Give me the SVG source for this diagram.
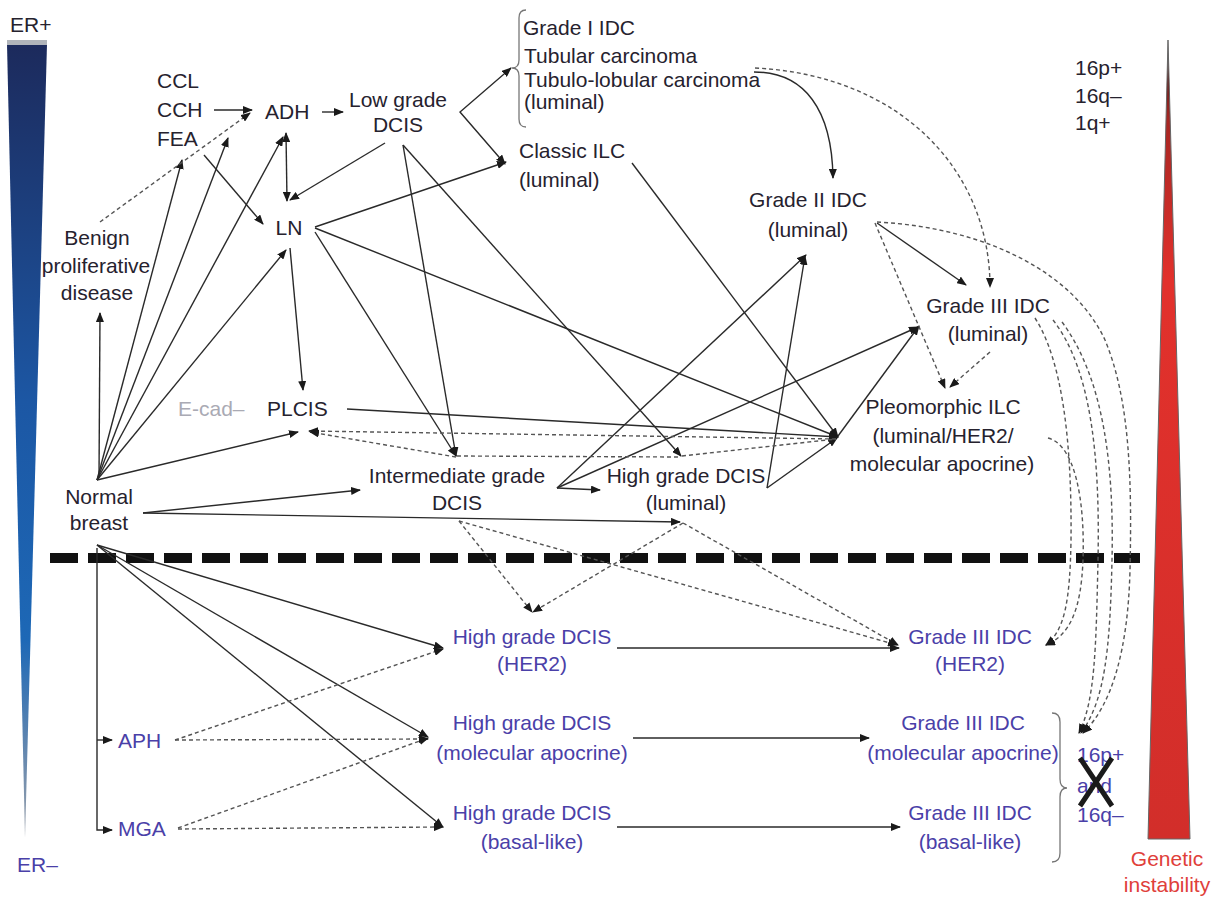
<svg xmlns="http://www.w3.org/2000/svg" width="1215" height="897" viewBox="0 0 1215 897">
<style>
text{font-family:"Liberation Sans",Arial,sans-serif;font-size:21px;fill:#26222e}
.b{fill:#4a40a8}
.g{fill:#aaaab4}
.r{fill:#e0403a}
.m{text-anchor:middle}
.s{fill:none;stroke:#2a2a2a;stroke-width:1.4}
.d{fill:none;stroke:#555;stroke-width:1.4;stroke-dasharray:4 3}
.ae{marker-end:url(#ah)}
.ab{marker-start:url(#ah);marker-end:url(#ah)}
</style>
<defs>
<marker id="ah" viewBox="0 0 10 8" refX="9" refY="4" markerWidth="10" markerHeight="8" markerUnits="userSpaceOnUse" orient="auto-start-reverse"><path d="M0,0 L10,4 L0,8 z" fill="#1a1a1a"/></marker>
<linearGradient id="blue" x1="0" y1="0" x2="0" y2="1">
<stop offset="0" stop-color="#1c2a5c"/>
<stop offset="0.45" stop-color="#1c57a4"/>
<stop offset="0.75" stop-color="#1d68b6"/>
<stop offset="1" stop-color="#9aa0aa"/>
</linearGradient>
<linearGradient id="red" x1="0" y1="0" x2="0" y2="1">
<stop offset="0" stop-color="#1a1a1a"/>
<stop offset="0.1" stop-color="#a82622"/>
<stop offset="0.3" stop-color="#e2312c"/>
<stop offset="1" stop-color="#d22e2a"/>
</linearGradient>
</defs>
<rect width="1215" height="897" fill="#fff"/>

<g id="er-bar">
<polygon points="7,44 47,44 25,838" fill="url(#blue)"/>
<rect x="7" y="40" width="40" height="5" fill="#b0b4ba"/>
<text x="10" y="32">ER+</text>
<text x="17" y="872" class="b">ER–</text>
</g>
<g id="genetic-bar">
<polygon points="1168,40 1190,839 1148,839" fill="url(#red)" stroke="#666" stroke-width="1"/>
<text x="1167" y="866" class="r m">Genetic</text>
<text x="1167" y="892" class="r m">instability</text>
</g>

<g id="separator"><line x1="50" y1="558" x2="1140" y2="558" stroke="#111" stroke-width="10" stroke-dasharray="28 10"/></g>

<g id="connectors">
<path class="s ae" d="M99,478 L100,313"/>
<path class="s ae" d="M97,480 L182,160"/>
<path class="s ae" d="M97,480 L228,138"/>
<path class="s ae" d="M97,480 L283,137"/>
<path class="s ae" d="M97,480 L286,250"/>
<path class="s ae" d="M97,480 L298,432"/>
<path class="s ae" d="M143,513 L360,490"/>
<path class="s ae" d="M143,513 L680,522"/>
<path class="s ae" d="M97,545 L443,648"/>
<path class="s ae" d="M97,545 L428,737"/>
<path class="s ae" d="M97,545 L443,827"/>
<path class="s ae" d="M97,548 L97,830 L112,830"/>
<path class="s ae" d="M97,740 L112,740"/>
<path class="s ae" d="M214,110 L252,110"/>
<path class="s ae" d="M322,112 L343,112"/>
<path class="s ae" d="M204,155 L263,224"/>
<path class="s ab" d="M286,133 L287,201"/>
<path class="s ae" d="M385,143 L290,200"/>
<path class="s ae" d="M315,227 L506,162"/>
<path class="s ab" d="M511,68 L460,112 L505,164"/>
<path class="s ae" d="M315,228 L838,437"/>
<path class="s ae" d="M315,232 L456,456"/>
<path class="s ae" d="M290,248 L303,390"/>
<path class="s ae" d="M403,145 L456,456"/>
<path class="s ae" d="M403,145 L681,456"/>
<path class="s ae" d="M632,163 L838,437"/>
<path class="s ae" d="M347,409 L838,437"/>
<path class="s ae" d="M557,488 L600,490"/>
<path class="s ae" d="M557,488 L806,255"/>
<path class="s ae" d="M557,488 L918,327"/>
<path class="s ae" d="M767,488 L805,256"/>
<path class="s ae" d="M767,488 L837,438"/>
<path class="s ae" d="M838,436 L919,326"/>
<path class="s ae" d="M754,72 C805,72 832,110 833,178"/>
<path class="s ae" d="M877,223 L966,285"/>
<path class="s ae" d="M617,648 L899,648"/>
<path class="s ae" d="M633,738 L869,738"/>
<path class="s ae" d="M617,827 L900,827"/>

<path class="d ae" d="M100,222 L250,113"/>
<path class="d ae" d="M755,68 C900,75 990,170 990,287"/>
<path class="d ae" d="M875,223 L945,388"/>
<path class="d ae" d="M990,352 L950,387"/>
<path class="d ae" d="M836,439 L309,431"/>
<path class="d ae" d="M456,457 L310,432"/>
<path class="d" d="M457,456 L680,457"/>
<path class="d" d="M682,456 L836,439"/>
<path class="d ae" d="M459,521 L532,612"/>
<path class="d ae" d="M459,521 L897,645"/>
<path class="d ae" d="M683,523 L533,612"/>
<path class="d ae" d="M683,523 L898,645"/>
<path class="d ae" d="M175,740 L443,649"/>
<path class="d ae" d="M175,740 L428,739"/>
<path class="d ae" d="M178,828 L428,738"/>
<path class="d ae" d="M178,829 L443,827"/>
<path class="d ae" d="M1048,438 C1075,445 1085,500 1083,560 C1081,610 1070,635 1046,645"/>
<path class="d ae" d="M1035,318 C1062,360 1072,440 1071,540 C1070,600 1065,630 1046,645"/>
<path class="d ae" d="M1053,320 C1092,370 1100,460 1098,560 C1096,650 1095,700 1079,733"/>
<path class="d ae" d="M1062,322 C1105,380 1114,470 1112,560 C1110,650 1105,700 1081,733"/>
<path class="d ae" d="M877,222 C990,228 1075,275 1105,340 C1130,400 1132,480 1130,570 C1128,650 1112,705 1083,733"/>
</g>

<g id="ccl"><text x="157" y="88">CCL</text><text x="157" y="117">CCH</text><text x="157" y="146">FEA</text></g>
<g id="adh"><text x="265" y="119">ADH</text></g>
<g id="low-dcis"><text x="398" y="107" class="m">Low grade</text><text x="398" y="132" class="m">DCIS</text></g>
<g id="grade1">
<path d="M526,10 Q519,10 519,18 L519,60 Q519,68 512,68 Q519,68 519,76 L519,119 Q519,127 526,127" fill="none" stroke="#777" stroke-width="1.3"/>
<text x="523" y="35">Grade I IDC</text>
<text x="524" y="63">Tubular carcinoma</text>
<text x="524" y="87">Tubulo-lobular carcinoma</text>
<text x="524" y="109">(luminal)</text>
</g>
<g id="classic-ilc"><text x="519" y="158">Classic ILC</text><text x="519" y="187">(luminal)</text></g>
<g id="grade2"><text x="808" y="207" class="m">Grade II IDC</text><text x="808" y="237" class="m">(luminal)</text></g>
<g id="markers-top"><text x="1075" y="75">16p+</text><text x="1075" y="103">16q–</text><text x="1075" y="130">1q+</text></g>
<g id="benign"><text x="97" y="245" class="m">Benign</text><text x="96" y="273" class="m">proliferative</text><text x="97" y="300" class="m">disease</text></g>
<g id="ln"><text x="289" y="235" class="m">LN</text></g>
<g id="grade3-lum"><text x="988" y="313" class="m">Grade III IDC</text><text x="988" y="341" class="m">(luminal)</text></g>
<g id="plcis"><text x="178" y="416" class="g">E-cad–</text><text x="267" y="416">PLCIS</text></g>
<g id="pleo-ilc"><text x="943" y="414" class="m">Pleomorphic ILC</text><text x="943" y="443" class="m">(luminal/HER2/</text><text x="942" y="471" class="m">molecular apocrine)</text></g>
<g id="normal"><text x="99" y="504" class="m">Normal</text><text x="99" y="530" class="m">breast</text></g>
<g id="int-dcis"><text x="457" y="483" class="m">Intermediate grade</text><text x="457" y="510" class="m">DCIS</text></g>
<g id="high-dcis-lum"><text x="686" y="483" class="m">High grade DCIS</text><text x="686" y="510" class="m">(luminal)</text></g>
<g id="aph"><text x="118" y="748" class="b">APH</text></g>
<g id="mga"><text x="118" y="836" class="b">MGA</text></g>
<g id="hdcis-her2"><text x="532" y="644" class="b m">High grade DCIS</text><text x="532" y="671" class="b m">(HER2)</text></g>
<g id="hdcis-apo"><text x="532" y="730" class="b m">High grade DCIS</text><text x="532" y="760" class="b m">(molecular apocrine)</text></g>
<g id="hdcis-basal"><text x="532" y="820" class="b m">High grade DCIS</text><text x="532" y="849" class="b m">(basal-like)</text></g>
<g id="g3-her2"><text x="970" y="644" class="b m">Grade III IDC</text><text x="970" y="671" class="b m">(HER2)</text></g>
<g id="g3-apo"><text x="963" y="730" class="b m">Grade III IDC</text><text x="963" y="760" class="b m">(molecular apocrine)</text></g>
<g id="g3-basal"><text x="970" y="820" class="b m">Grade III IDC</text><text x="970" y="849" class="b m">(basal-like)</text></g>
<g id="brace-bottom">
<path d="M1052,713 Q1060,713 1060,722 L1060,779 Q1060,788 1067,788 Q1060,788 1060,797 L1060,853 Q1060,862 1052,862" fill="none" stroke="#777" stroke-width="1.3"/>
<text x="1077" y="762" class="b">16p+</text>
<text x="1077" y="793" class="b">and</text>
<text x="1077" y="822" class="b">16q–</text>
<path d="M1080,758 L1112,806 M1112,758 L1080,806" stroke="#1a1a1a" stroke-width="5" fill="none"/>
</g>
</svg>
